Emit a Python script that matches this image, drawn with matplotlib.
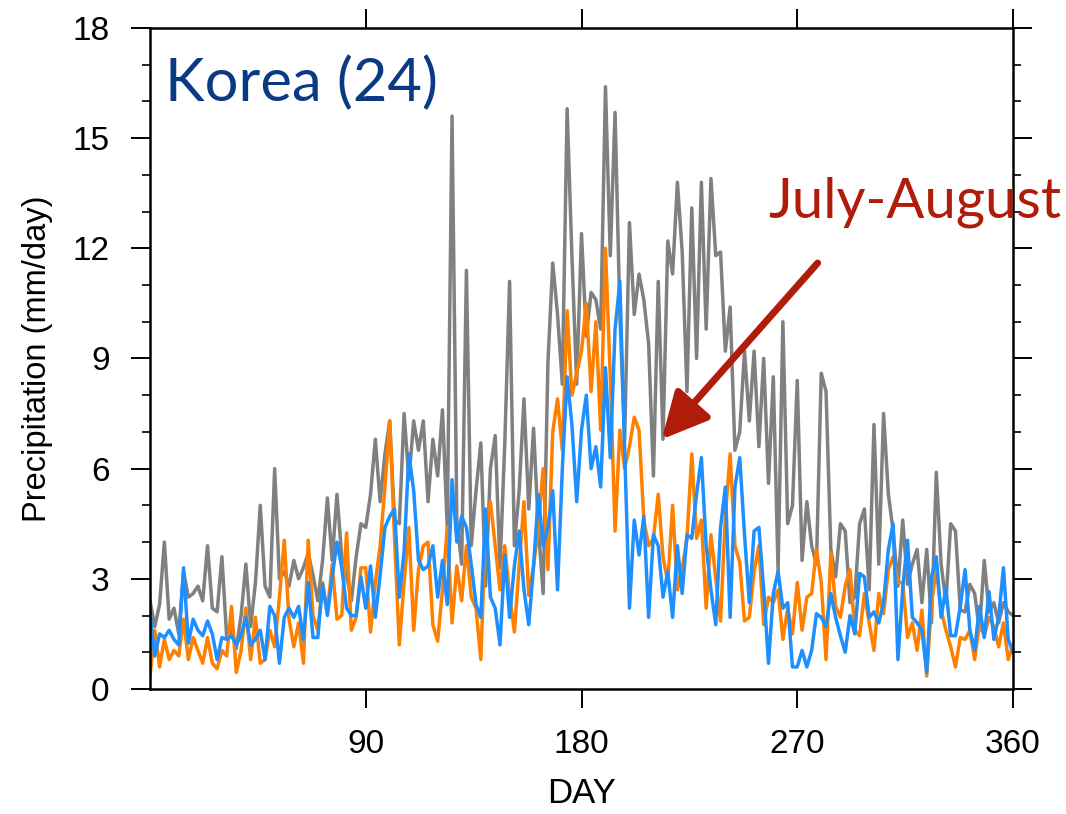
import numpy as np
import matplotlib.pyplot as plt
from matplotlib.ticker import MultipleLocator

# day grid (every second day of the year)
days = np.arange(0, 361, 2)

# daily precipitation (mm/day)
gray_vals = [
    2.4, 1.7, 2.3, 4.0, 1.9, 2.2, 1.5, 3.2, 2.5, 2.6,
    2.8, 2.4, 3.9, 2.2, 2.1, 3.6, 1.4, 1.6, 1.1, 2.0,
    3.4, 1.7, 2.9, 5.0, 2.8, 2.5, 6.0, 3.0, 3.2, 2.8,
    3.5, 3.0, 3.3, 3.7, 3.1, 2.4, 3.5, 5.2, 3.5, 5.3,
    3.6, 3.1, 2.4, 3.6, 4.5, 4.4, 5.3, 6.8, 5.1, 6.4,
    7.3, 4.6, 4.5, 7.5, 5.7, 7.3, 6.5, 7.3, 5.1, 6.8,
    5.8, 7.6, 4.4, 15.6, 4.6, 3.4, 11.4, 3.9, 5.4, 6.7,
    2.8, 6.0, 6.9, 3.3, 6.7, 11.1, 3.9, 5.4, 7.9, 4.9,
    7.1, 4.4, 2.6, 8.9, 11.6, 10.2, 8.3, 15.8, 11.8, 8.3,
    12.4, 9.6, 10.8, 10.6, 9.8, 16.4, 11.8, 15.7, 10.2, 6.8,
    12.7, 10.2, 11.3, 10.6, 9.4, 5.8, 11.1, 6.8, 12.2, 11.3,
    13.8, 11.9, 8.1, 13.1, 9.0, 13.8, 9.8, 13.9, 11.8, 11.9,
    9.2, 10.4, 6.5, 7.0, 9.2, 7.3, 9.2, 6.6, 9.0, 5.6,
    8.5, 3.2, 10.0, 4.5, 5.0, 8.4, 3.5, 5.1, 3.9, 3.4,
    8.6, 8.1, 3.8, 3.05, 4.5, 4.3, 2.35, 2.5, 4.5, 4.9,
    2.7, 7.2, 3.4, 7.5, 5.3, 4.3, 2.8, 4.6, 2.85, 3.4,
    3.8, 2.35, 3.8, 1.8, 5.9, 3.4, 2.35, 4.5, 4.3, 2.15,
    2.1, 2.85, 2.6, 1.6, 3.5, 2.1, 2.35, 1.8, 2.35, 2.1,
    2.0]

orange_vals = [
    0.35, 1.6, 0.6, 1.35, 0.8, 1.05, 0.9, 1.9, 0.8, 1.4,
    1.05, 0.7, 1.4, 0.7, 0.55, 1.05, 0.9, 2.25, 0.45, 1.05,
    2.2, 0.8, 1.95, 0.7, 0.8, 1.6, 1.15, 2.5, 4.05, 1.9,
    1.15, 1.8, 0.7, 4.05, 2.0, 1.6, 2.9, 2.1, 3.4, 1.9,
    2.0, 4.25, 1.6, 1.95, 3.3, 3.3, 1.55, 2.9, 3.9, 5.5,
    7.3, 4.1, 1.2, 2.9, 4.4, 1.6, 3.25, 3.9, 4.0, 1.75,
    1.3, 2.7, 4.4, 1.8, 3.35, 2.4, 3.9, 2.5, 2.2, 0.8,
    4.4, 5.1, 3.9, 2.7, 3.9, 2.55, 1.55, 3.35, 5.1, 2.55,
    3.35, 4.4, 6.0, 3.25, 7.0, 7.9, 6.5, 10.3, 8.0, 8.6,
    9.2, 10.5, 8.1, 10.0, 7.05, 12.0, 8.5, 4.3, 7.05, 6.0,
    6.6, 7.4, 7.05, 4.6, 3.9, 4.1, 5.3, 3.6, 2.9, 5.0,
    2.7, 3.3, 4.1, 6.4, 4.1, 4.6, 2.2, 4.2, 3.0, 1.85,
    4.7, 6.4, 3.9, 3.45, 1.85, 1.95, 3.2, 3.9, 1.75, 2.5,
    2.35, 2.7, 1.35, 2.2, 1.5, 2.9, 1.6, 2.5, 2.6, 3.8,
    2.9, 0.8, 3.7, 2.25, 1.95, 2.8, 3.25, 1.6, 1.45, 2.6,
    1.8, 1.05, 2.6, 2.05, 3.25, 3.6, 2.9, 2.9, 1.4, 1.8,
    1.05, 2.15, 0.35, 2.35, 3.25, 2.15, 1.6, 1.15, 0.6, 1.4,
    1.35, 1.6, 0.8, 1.8, 1.45, 1.95, 1.7, 1.15, 1.8, 0.8,
    1.2]

blue_vals = [
    2.1, 0.9, 1.5, 1.4, 1.6, 1.35, 1.2, 3.3, 1.25, 1.9,
    1.6, 1.45, 1.85, 1.5, 0.8, 1.4, 1.35, 1.45, 1.2, 1.45,
    1.95, 1.2, 1.35, 1.6, 0.8, 2.25, 2.0, 0.7, 1.95, 2.2,
    1.95, 2.25, 1.35, 2.9, 1.4, 1.4, 2.85, 2.0, 3.05, 4.0,
    3.3, 2.2, 2.0, 2.0, 3.05, 2.2, 3.35, 1.95, 3.1, 4.4,
    4.7, 4.9, 2.5, 3.75, 6.4, 5.4, 3.5, 3.25, 3.35, 3.9,
    2.5, 3.5, 2.3, 5.7, 4.0, 4.7, 4.4, 3.4, 2.3, 1.95,
    4.9, 2.5, 2.2, 1.2, 3.65, 1.95, 3.35, 4.3, 2.7, 1.75,
    3.35, 5.3, 3.9, 4.4, 5.4, 2.7, 6.0, 8.5, 7.2, 5.1,
    7.05, 8.0, 6.0, 6.6, 5.5, 8.75, 6.3, 9.8, 11.1, 6.5,
    2.2, 4.6, 3.65, 4.7, 1.95, 4.2, 3.9, 2.5, 3.2, 1.95,
    3.9, 2.6, 4.2, 4.1, 5.3, 6.3, 3.9, 2.7, 1.75, 4.4,
    5.5, 1.95, 5.5, 6.3, 4.2, 2.35, 4.3, 4.4, 2.7, 0.7,
    2.6, 3.2, 2.2, 2.35, 0.6, 0.6, 1.05, 0.6, 1.05, 2.05,
    1.95, 1.7, 2.6, 1.95, 1.45, 1.0, 2.0, 1.5, 3.15, 3.05,
    1.95, 2.1, 1.8, 2.35, 3.8, 4.5, 0.8, 2.75, 4.05, 1.95,
    1.8, 1.6, 0.45, 3.05, 3.6, 1.95, 2.75, 1.45, 1.45, 2.25,
    3.25, 1.6, 1.05, 2.25, 1.4, 2.65, 1.35, 1.95, 3.3, 1.35,
    1.0]

x_ticks = [90, 180, 270, 360]
y_ticks = [0, 3, 6, 9, 12, 15, 18]

plt.rcParams['font.family'] = ['Liberation Sans', 'DejaVu Sans']

fig = plt.figure(figsize=(10.66, 8.14), dpi=100)
ax = fig.add_axes([0.1407, 0.1536, 0.8096, 0.8120])

ax.plot(days, gray_vals, color='#808080', lw=2.5, solid_joinstyle='round')
ax.plot(days, orange_vals, color='#ff8000', lw=2.5, solid_joinstyle='round')
ax.plot(days, blue_vals, color='#1e8fff', lw=2.5, solid_joinstyle='round')

ax.set_xlim(0, 360)
ax.set_ylim(0, 18)
ax.set_xticks(x_ticks)
ax.set_yticks(y_ticks)
ax.yaxis.set_minor_locator(MultipleLocator(1))

ax.tick_params(which='major', direction='out', length=14, width=1.4,
               top=True, right=True, labelsize=24, pad=15)
ax.tick_params(which='minor', direction='out', length=6, width=1.2,
               right=True, left=True)
ax.tick_params(axis='x', which='minor', bottom=False, top=False)
for s in ax.spines.values():
    s.set_linewidth(1.8)

ax.set_xlabel('DAY', fontsize=25, labelpad=12)
ax.set_ylabel('Precipitation (mm/day)', fontsize=23.5, labelpad=14)

ax.text(0.0174, 0.8896, 'Korea (24)', transform=ax.transAxes,
        fontsize=43, color='#0b3a84', family='Lato', va='baseline')
ax.text(0.716, 0.7126, 'July-August', transform=ax.transAxes,
        fontsize=40.5, color='#b01c0a', family='Lato', va='baseline', clip_on=False)

ax.annotate('', xy=(213.5, 6.8), xytext=(278.5, 11.6),
            arrowprops=dict(arrowstyle='-|>,head_length=1.4,head_width=0.7',
                            mutation_scale=20, lw=5, color='#b01c0a',
                            shrinkA=0, shrinkB=0))

plt.savefig('out.png', dpi=100)
